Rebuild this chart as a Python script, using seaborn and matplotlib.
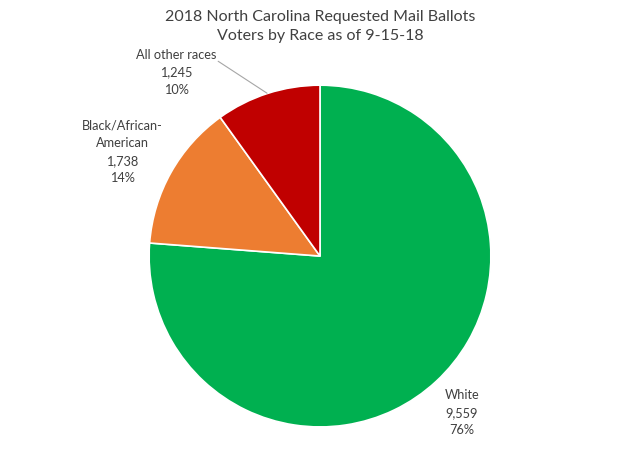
import matplotlib
matplotlib.use("Agg")
import matplotlib.pyplot as plt
import seaborn as sns

# Dados
racas = ["White", "Black/African-\nAmerican", "All other races"]
votos = [9559, 1738, 1245]
cores = ["#00B050", "#ED7D31", "#C00000"]

sns.set_theme(style="white")
plt.rcParams["font.family"] = ["Lato", "DejaVu Sans"]

fig = plt.figure(figsize=(6.4, 4.64), dpi=100)
ax = fig.add_axes([0.5 - 0.267, 0.446 - 0.3685, 0.534, 0.737])

ax.pie(votos, colors=cores, startangle=90, counterclock=False,
       wedgeprops={"edgecolor": "white", "linewidth": 1.2})
ax.set_aspect("equal")
ax.set_xlim(-1, 1)
ax.set_ylim(-1, 1)

total = sum(votos)
rotulos = [f"{r}\n{v:,}\n{v / total:.0%}" for r, v in zip(racas, votos)]

# Posicoes dos rotulos
pos = [(0.83, -0.912), (-1.158, 0.614), (-0.842, 1.082)]
for txt, (x, y) in zip(rotulos, pos):
    ax.text(x, y, txt, ha="center", va="center", fontsize=9.2, color="#404040",
            linespacing=1.55, clip_on=False)

# Linha guia para "All other races"
ax.plot([-0.596, -0.31], [1.14, 0.953], color="#A6A6A6", lw=0.8, clip_on=False)

fig.text(0.5, 0.978, "2018 North Carolina Requested Mail Ballots\nVoters by Race as of 9-15-18",
         ha="center", va="top", fontsize=11.5, color="#404040", linespacing=1.45)

fig.savefig("out.png", dpi=100)
